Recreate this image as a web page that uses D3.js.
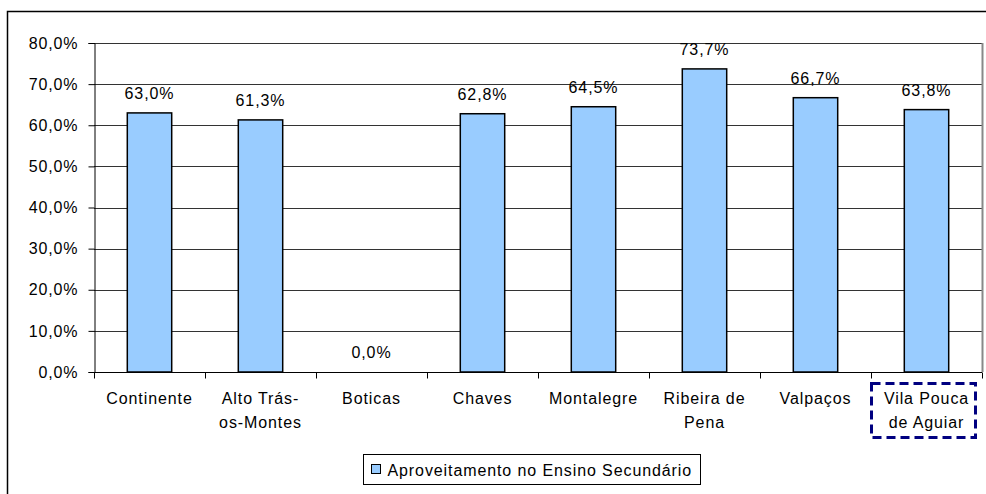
<html>
<head>
<script src="https://d3js.org/d3.v7.min.js"></script>
<style>
body { margin: 0; background: #fff; }
svg { display: block; font-family: 'Liberation Sans', Arial, sans-serif; }
text { letter-spacing: 0.9px; }
</style>
</head>
<body>
<svg width="986" height="494"></svg>
<script>
// categories and values (percent)
var categories = ["Continente", "Alto Trás-os-Montes", "Boticas", "Chaves", "Montalegre", "Ribeira de Pena", "Valpaços", "Vila Pouca de Aguiar"];
var catLines = [["Continente"], ["Alto Trás-", "os-Montes"], ["Boticas"], ["Chaves"], ["Montalegre"], ["Ribeira de", "Pena"], ["Valpaços"], ["Vila Pouca", "de Aguiar"]];
var values = [63.0, 61.3, 0.0, 62.8, 64.5, 73.7, 66.7, 63.8];
var yTicks = [0, 10, 20, 30, 40, 50, 60, 70, 80];
var seriesName = "Aproveitamento no Ensino Secundário";

var svg = d3.select("svg");
var fmt = function(v){ return v.toFixed(1).replace(".", ",") + "%"; };
var fs = 16;

// outer border
svg.append("rect").attr("x", 7.5).attr("y", 11.5).attr("width", 990).attr("height", 500)
  .attr("fill", "none").attr("stroke", "#000").attr("stroke-width", 1.5);

var plotLeft = 94, plotRight = 982, plotTop = 43, plotBottom = 372;

var x = d3.scaleBand().domain(categories).range([plotLeft, plotRight]).paddingInner(0.6).paddingOuter(0.3);
var xOuter = d3.scaleBand().domain(categories).range([plotLeft, plotRight]);
var y = d3.scaleLinear().domain([0, 80]).range([plotBottom, plotTop]);

// gridlines
svg.append("g").selectAll("line").data(yTicks.slice(1)).join("line")
  .attr("x1", plotLeft).attr("x2", plotRight)
  .attr("y1", function(d){ return Math.round(y(d)) + 0.5; })
  .attr("y2", function(d){ return Math.round(y(d)) + 0.5; })
  .attr("stroke", "#333").attr("stroke-width", 1);

// plot border right side (gray)
svg.append("line").attr("x1", plotRight + 0.5).attr("x2", plotRight + 0.5).attr("y1", plotTop).attr("y2", plotBottom)
  .attr("stroke", "#888").attr("stroke-width", 2);

// bars
svg.append("g").selectAll("rect").data(values).join("rect")
  .attr("x", function(d, i){ return x(categories[i]); })
  .attr("width", x.bandwidth())
  .attr("y", function(d){ return y(d); })
  .attr("height", function(d){ return plotBottom - y(d); })
  .attr("fill", "#99ccff").attr("stroke", "#000").attr("stroke-width", 1.5);

// value labels
svg.append("g").selectAll("text").data(values).join("text")
  .attr("x", function(d, i){ return xOuter(categories[i]) + xOuter.bandwidth() / 2; })
  .attr("y", function(d){ return y(d) - 14; })
  .attr("text-anchor", "middle").attr("font-size", fs).attr("fill", "#000")
  .text(fmt);

// y axis
var yAxis = d3.axisLeft(y).tickValues(yTicks).tickSize(6).tickPadding(10).tickFormat(fmt);
var gy = svg.append("g").attr("transform", "translate(" + (plotLeft + 0.5) + ",0)").call(yAxis);
gy.select(".domain").attr("stroke", "#000");
gy.selectAll("text").attr("font-size", fs).attr("font-family", "'Liberation Sans', Arial, sans-serif").attr("fill", "#000");

// x axis
var gx = svg.append("g").attr("transform", "translate(0," + (plotBottom + 0.5) + ")");
gx.append("line").attr("x1", plotLeft).attr("x2", plotRight).attr("stroke", "#000");
gx.selectAll(".tk").data(d3.range(categories.length + 1)).join("line").attr("class", "tk")
  .attr("x1", function(i){ return plotLeft + i * xOuter.step() + 0.5; })
  .attr("x2", function(i){ return plotLeft + i * xOuter.step() + 0.5; })
  .attr("y1", 0).attr("y2", 6).attr("stroke", "#000");

catLines.forEach(function(lines, i){
  var t = svg.append("text")
    .attr("x", xOuter(categories[i]) + xOuter.bandwidth() / 2)
    .attr("y", 404).attr("text-anchor", "middle").attr("font-size", fs).attr("fill", "#000");
  lines.forEach(function(l, j){
    t.append("tspan").attr("x", xOuter(categories[i]) + xOuter.bandwidth() / 2).attr("dy", j ? 24 : 0).text(l);
  });
});

// highlight box
var last = categories[categories.length - 1];
svg.append("rect")
  .attr("x", xOuter(last) + 0.5).attr("y", 383.5).attr("width", 104).attr("height", 54)
  .attr("fill", "none").attr("stroke", "#000080").attr("stroke-width", 3).attr("stroke-dasharray", "9,5");

// legend
var lg = svg.append("g").attr("transform", "translate(363.5,454.5)");
lg.append("rect").attr("width", 337).attr("height", 30).attr("fill", "#fff").attr("stroke", "#000");
lg.append("rect").attr("x", 8).attr("y", 10).attr("width", 9).attr("height", 9)
  .attr("fill", "#99ccff").attr("stroke", "#000");
lg.append("text").attr("x", 24).attr("y", 21).attr("font-size", fs).attr("fill", "#000").text(seriesName);
</script>
</body>
</html>
